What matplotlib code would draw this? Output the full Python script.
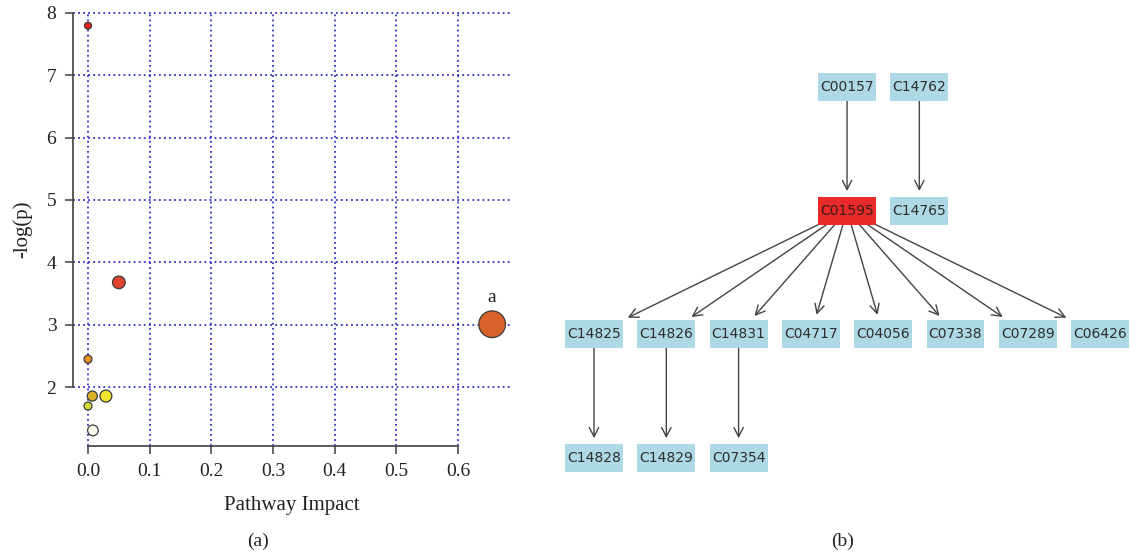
import numpy as np
import matplotlib
matplotlib.use('Agg')
import matplotlib.pyplot as plt
from matplotlib.patches import Rectangle, FancyArrowPatch

# panel (a): pathway topology scatter
impact = [0.0, 0.05, 0.655, 0.0, 0.007, 0.029, 0.0, 0.008]
neglogp = [7.79, 3.68, 3.01, 2.45, 1.86, 1.86, 1.70, 1.31]
size = [25, 83, 369, 33, 52, 74, 33, 59]
fill = ['#e3211c', '#e0432a', '#d9622a', '#e38f22', '#dcb024',
        '#efe52e', '#d8d83a', '#fdfdf0']
xticks = [0.0, 0.1, 0.2, 0.3, 0.4, 0.5, 0.6]
yticks = [2, 3, 4, 5, 6, 7, 8]
hit_label = 'a'
hit_index = 2

# panel (b): compound network
node_names = ['C00157', 'C14762',
              'C01595', 'C14765',
              'C14825', 'C14826', 'C14831', 'C04717', 'C04056', 'C07338', 'C07289', 'C06426',
              'C14828', 'C14829', 'C07354']
node_col = [3.5, 4.5,
            3.5, 4.5,
            0, 1, 2, 3, 4, 5, 6, 7,
            0, 1, 2]
node_row = [0, 0,
            1, 1,
            2, 2, 2, 2, 2, 2, 2, 2,
            3, 3, 3]
highlight = ['C01595']
edges = [('C00157', 'C01595'), ('C14762', 'C14765'),
         ('C01595', 'C14825'), ('C01595', 'C14826'), ('C01595', 'C14831'),
         ('C01595', 'C04717'), ('C01595', 'C04056'), ('C01595', 'C07338'),
         ('C01595', 'C07289'), ('C01595', 'C06426'),
         ('C14825', 'C14828'), ('C14826', 'C14829'), ('C14831', 'C07354')]

serif = ['Liberation Serif', 'DejaVu Serif']

fig = plt.figure(figsize=(11.3, 5.56), dpi=100)

# ---- (a)
W, H = 1130, 556
ax = fig.add_axes([73 / W, 1 - 446 / H, 437 / W, 434 / H])
ax.scatter(impact, neglogp, s=size, c=fill, edgecolors='#3a3a3a', linewidths=0.9, zorder=3)
ax.annotate(hit_label, (impact[hit_index], neglogp[hit_index]), xytext=(0, 16),
            textcoords='offset points', ha='center', va='baseline',
            fontsize=14, family=serif, color='#222222')
ax.set_xlim(-0.0243, 0.684)
ax.set_ylim(1.06, 8.01)
ax.set_xticks(xticks)
ax.set_yticks(yticks)
ax.set_xticklabels([f'{v:.1f}' for v in xticks], family=serif, fontsize=14)
ax.set_yticklabels([str(v) for v in yticks], family=serif, fontsize=14)
ax.grid(True, color='#3030c4', linestyle=(0, (1, 1.8)), linewidth=1.3)
ax.set_axisbelow(True)
for s in ['top', 'right']:
    ax.spines[s].set_visible(False)
ax.spines['left'].set_bounds(2, 8)
ax.spines['bottom'].set_bounds(0, 0.6)
for s in ['left', 'bottom']:
    ax.spines[s].set_color('#404040')
    ax.spines[s].set_linewidth(1.2)
ax.tick_params(direction='out', length=6, width=1.1, color='#404040', pad=6, labelcolor='#222222')
ax.set_xlabel('Pathway Impact', family=serif, fontsize=15, color='#222222', labelpad=12)
ax.set_ylabel('-log(p)', family=serif, fontsize=15, color='#222222', labelpad=10)
fig.text(258 / W, 1 - 541 / H, '(a)', family=serif, fontsize=14, ha='center', va='center', color='#222222')
fig.text(843 / W, 1 - 541 / H, '(b)', family=serif, fontsize=14, ha='center', va='center', color='#222222')

# ---- (b)
colw, rowh = 72.3, 123.6
x0, y0 = 594, 87
bx = fig.add_axes([(x0 - 0.5 * colw) / W, 1 - (y0 + 3.5 * rowh) / H,
                   7.4 * colw / W, 4 * rowh / H])
bx.set_xlim(-0.5, 6.9)
bx.set_ylim(3.5, -0.5)
bx.axis('off')

bw, bh = 0.80, 0.227
boxes = {}
for name, c, r in zip(node_names, node_col, node_row):
    fc = '#e82a2a' if name in highlight else '#add8e6'
    rect = Rectangle((c - bw / 2, r - bh / 2), bw, bh, facecolor=fc, edgecolor='none',
                     zorder=2, clip_on=False)
    bx.add_patch(rect)
    boxes[name] = (c, r, rect)
    tc = '#3b1a1a' if name in highlight else '#2e2e2e'
    bx.text(c, r, name, ha='center', va='center', fontsize=10, color=tc,
            family='DejaVu Sans', zorder=3, clip_on=False)

for a, b in edges:
    ca, ra, pa = boxes[a]
    cb, rb, pb = boxes[b]
    arr = FancyArrowPatch((ca, ra), (cb, rb), patchA=pa, patchB=pb,
                          arrowstyle='->,head_length=0.55,head_width=0.28',
                          mutation_scale=12, shrinkA=0, shrinkB=4,
                          color='#444444', linewidth=1.0, zorder=1, clip_on=False)
    bx.add_patch(arr)

fig.savefig('out.png', dpi=100)
